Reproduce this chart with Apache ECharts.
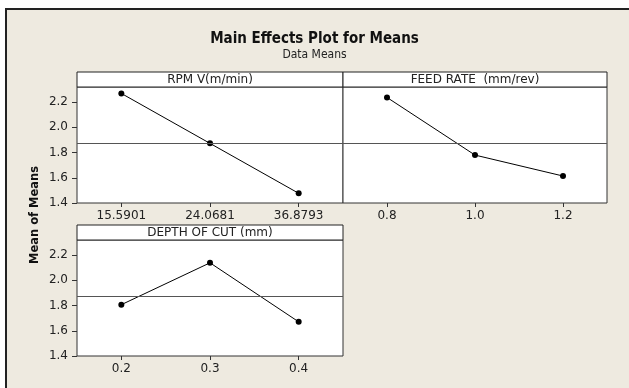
<!DOCTYPE html>
<html>
<head>
<meta charset="utf-8">
<script src="https://cdn.jsdelivr.net/npm/echarts@6/dist/echarts.min.js"></script>
<style>
html,body{margin:0;padding:0;background:#ffffff;}
#chart{width:629px;height:388px;}
</style>
</head>
<body>
<div id="chart"></div>
<script>
// Data
const rpmLevels = ['15.5901', '24.0681', '36.8793'];
const rpmMeans = [2.269, 1.873, 1.477];
const feedLevels = ['0.8', '1.0', '1.2'];
const feedMeans = [2.237, 1.780, 1.614];
const depthLevels = ['0.2', '0.3', '0.4'];
const depthMeans = [1.807, 2.139, 1.671];
const yTicks = [1.4, 1.6, 1.8, 2.0, 2.2];
const panelTitles = ['RPM V(m/min)', 'FEED RATE  (mm/rev)', 'DEPTH OF CUT (mm)'];

const allVals = rpmMeans.concat(feedMeans, depthMeans);
const grandMean = allVals.reduce((a, b) => a + b, 0) / allVals.length;

const FONT = 'DejaVu Sans, sans-serif';
const FONTC = 'DejaVu Sans Condensed, DejaVu Sans, sans-serif';
const BG = '#eeeae0';

const grids = [
  {left: 77, top: 87, width: 266, height: 116},
  {left: 343, top: 87, width: 264, height: 116},
  {left: 77, top: 240, width: 266, height: 116}
];

function xAxis(i, cats) {
  return {
    type: 'category', gridIndex: i, data: cats, boundaryGap: true,
    axisLine: {show: false},
    axisTick: {show: true, alignWithLabel: true, length: 4, lineStyle: {color: '#333'}},
    axisLabel: {color: '#222', fontFamily: FONT, fontSize: 12, margin: 7}
  };
}
function yAxis(i, showLabels) {
  return {
    type: 'value', gridIndex: i, min: 1.4, max: 2.32,
    splitLine: {show: false},
    axisLine: {show: false},
    axisTick: {show: showLabels, length: 5, lineStyle: {color: '#333'}, customValues: yTicks},
    axisLabel: {show: showLabels, color: '#222', fontFamily: FONT, fontSize: 12, margin: 9,
      customValues: yTicks, formatter: v => v.toFixed(1)}
  };
}
function series(i, vals) {
  return {
    type: 'line', xAxisIndex: i, yAxisIndex: i, data: vals,
    symbol: 'circle', symbolSize: 6, color: '#000',
    lineStyle: {color: '#000', width: 1},
    itemStyle: {color: '#000'},
    silent: true, animation: false,
    markLine: {
      silent: true, symbol: 'none', label: {show: false},
      lineStyle: {color: '#555', width: 1, type: 'solid'},
      data: [{yAxis: grandMean}], animation: false
    }
  };
}

const headers = [
  {x: 77, y: 72, w: 266, h: 15, t: panelTitles[0]},
  {x: 343, y: 72, w: 264, h: 15, t: panelTitles[1]},
  {x: 77, y: 225, w: 266, h: 15, t: panelTitles[2]}
];

const graphic = [
  {type: 'rect', z: -10, shape: {x: 6, y: 9, width: 700, height: 500},
   style: {fill: BG, stroke: '#222', lineWidth: 2}}
];
headers.forEach(h => {
  graphic.push({type: 'rect', shape: {x: h.x, y: h.y, width: h.w, height: h.h},
    style: {fill: '#fff', stroke: '#222', lineWidth: 1}});
  graphic.push({type: 'text', x: h.x + h.w / 2, y: h.y + h.h / 2 + 0.5,
    style: {text: h.t, fill: '#222', font: '12px ' + FONT, textAlign: 'center', textVerticalAlign: 'middle'}});
});
graphic.push({type: 'text', x: 35, y: 215, rotation: Math.PI / 2,
  style: {text: 'Mean of Means', fill: '#111', font: 'bold 11.5px ' + FONT, textAlign: 'center', textVerticalAlign: 'middle'}});

const chart = echarts.init(document.getElementById('chart'), null, {renderer: 'canvas'});
chart.setOption({
  animation: false,
  backgroundColor: '#ffffff',
  title: {
    text: 'Main Effects Plot for Means', subtext: 'Data Means',
    left: 'center', top: 27, itemGap: 2,
    textStyle: {fontFamily: FONTC, fontSize: 15, fontWeight: 'bold', color: '#111'},
    subtextStyle: {fontFamily: FONTC, fontSize: 12, color: '#222'}
  },
  grid: grids.map(g => Object.assign({show: true, backgroundColor: '#fff', borderColor: '#333', borderWidth: 1}, g)),
  xAxis: [xAxis(0, rpmLevels), xAxis(1, feedLevels), xAxis(2, depthLevels)],
  yAxis: [yAxis(0, true), yAxis(1, false), yAxis(2, true)],
  series: [series(0, rpmMeans), series(1, feedMeans), series(2, depthMeans)],
  graphic: graphic
});
</script>
</body>
</html>
